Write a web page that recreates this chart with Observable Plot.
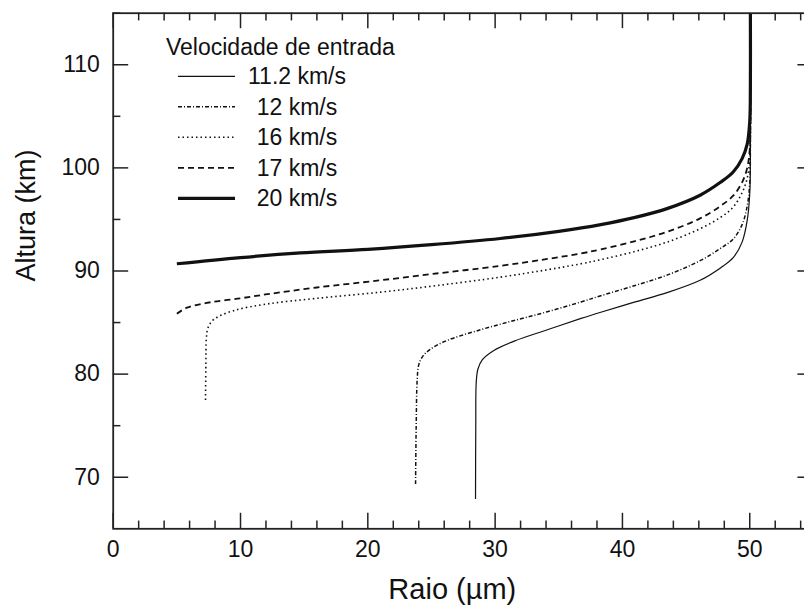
<!DOCTYPE html>
<html>
<head>
<meta charset="utf-8">
<script src="https://cdn.jsdelivr.net/npm/d3@7"></script>
<script src="https://cdn.jsdelivr.net/npm/@observablehq/plot@0.6"></script>
<style>
  html, body { margin: 0; padding: 0; background: #fff; }
  #chart svg { display: block; }
</style>
</head>
<body>
<div id="chart"></div>
<script>
// ---- Data ----
const seriesLabels = ["11.2 km/s", "12 km/s", "16 km/s", "17 km/s", "20 km/s"];
const legendTitle = "Velocidade de entrada";
const xLabel = "Raio (µm)";
const yLabel = "Altura (km)";
const xTicks = [0, 10, 20, 30, 40, 50];
const yTicks = [70, 80, 90, 100, 110];

// radius (µm) and altitude (km) for each entry velocity
const r112 = [28.46, 28.48, 28.52, 28.65, 29.0, 29.9, 31.5, 34.1, 36.75, 38.3, 41.0, 43.5, 46.1, 47.7, 48.7, 49.4, 49.8, 50.0, 50.05, 50.05];
const h112 = [67.9, 75.0, 79.3, 80.5, 81.4, 82.3, 83.2, 84.3, 85.4, 86.0, 87.0, 87.9, 89.1, 90.3, 91.3, 92.8, 94.9, 97.5, 101, 115];

const r12 = [23.75, 23.8, 23.88, 24.0, 24.3, 24.9, 26.2, 28.85, 31.5, 34.1, 36.75, 38.3, 41.0, 43.5, 46.1, 47.7, 48.7, 49.4, 49.8, 50.0, 50.05, 50.05];
const h12 = [69.35, 75.0, 79.5, 80.9, 81.7, 82.4, 83.25, 84.3, 85.2, 86.05, 87.0, 87.6, 88.6, 89.6, 91.0, 92.2, 93.1, 94.5, 96.3, 98.5, 102, 115];

const r16 = [7.25, 7.28, 7.32, 7.45, 7.9, 9.45, 12.1, 16.0, 21.0, 25.5, 30.4, 34.0, 36.75, 38.3, 41.0, 43.5, 46.1, 47.7, 48.7, 49.4, 49.8, 50.0, 50.05, 50.05];
const h16 = [77.5, 81.0, 83.5, 84.5, 85.3, 86.15, 86.8, 87.35, 87.95, 88.6, 89.4, 90.1, 90.7, 91.1, 91.9, 92.8, 94.1, 95.2, 96.2, 97.6, 99.0, 101, 104, 115];

const r17 = [5.0, 5.8, 7.65, 10.0, 12.1, 16.0, 21.0, 25.0, 30.4, 34.0, 36.75, 38.3, 41.0, 43.5, 46.1, 47.7, 48.7, 49.4, 49.8, 50.0, 50.05, 50.05];
const h17 = [85.86, 86.45, 86.97, 87.35, 87.75, 88.4, 89.1, 89.7, 90.5, 91.15, 91.7, 92.1, 92.9, 93.8, 95.1, 96.3, 97.3, 98.6, 100.0, 101.8, 105, 115];

const r20 = [5.0, 10.0, 14.7, 20.0, 25.0, 30.4, 35.0, 38.3, 41.0, 43.5, 46.1, 47.7, 48.7, 49.4, 49.8, 50.0, 50.05, 50.05];
const h20 = [90.7, 91.3, 91.75, 92.1, 92.55, 93.15, 93.85, 94.5, 95.2, 96.05, 97.35, 98.6, 99.6, 100.9, 102.3, 104.5, 108, 115];

// ---- Styles ----
const styles = [
  {width: 1.2, dash: null},
  {width: 1.5, dash: "4,2,1,2"},
  {width: 1.6, dash: "1.5,3"},
  {width: 1.8, dash: "6,4"},
  {width: 3.2, dash: null}
];

const radii = [r112, r12, r16, r17, r20];
const heights = [h112, h12, h16, h17, h20];
const series = seriesLabels.map((label, i) => ({
  label,
  ...styles[i],
  points: radii[i].map((r, j) => ({r, h: heights[i][j]}))
}));

// ---- Layout ----
const W = 804, H = 614;
const mL = 112.7, mR = -8.9, mT = 12.7, mB = 85.7;
const innerW = W - mL - mR, innerH = H - mT - mB;
const majorLen = 15.5, minorLen = 7.7;

const xMinor = d3.range(0, 56, 2).filter(v => v % 10 !== 0);
const yMinor = d3.range(65, 116, 5).filter(v => v % 10 !== 0 && v > 65);

const ink = "#222";
const font = "'Liberation Sans', Arial, Helvetica, sans-serif";

const marks = [];
// ticks (inward on all four sides)
marks.push(Plot.tickX(xTicks, {x: d => d, insetTop: innerH - majorLen, stroke: ink, strokeWidth: 1.5}));
marks.push(Plot.tickX(xMinor, {x: d => d, insetTop: innerH - minorLen, stroke: ink, strokeWidth: 1.5}));
marks.push(Plot.tickX(xTicks, {x: d => d, insetBottom: innerH - majorLen, stroke: ink, strokeWidth: 1.5}));
marks.push(Plot.tickX(xMinor, {x: d => d, insetBottom: innerH - minorLen, stroke: ink, strokeWidth: 1.5}));
marks.push(Plot.tickY(yTicks, {y: d => d, insetRight: innerW - majorLen, stroke: ink, strokeWidth: 1.5}));
marks.push(Plot.tickY(yMinor, {y: d => d, insetRight: innerW - minorLen, stroke: ink, strokeWidth: 1.5}));
marks.push(Plot.tickY(yTicks, {y: d => d, insetLeft: innerW - majorLen, stroke: ink, strokeWidth: 1.5}));
marks.push(Plot.tickY(yMinor, {y: d => d, insetLeft: innerW - minorLen, stroke: ink, strokeWidth: 1.5}));

// curves
for (const s of series) {
  marks.push(Plot.line(s.points, {
    x: "r", y: "h", curve: "catmull-rom",
    stroke: "#111", strokeWidth: s.width,
    strokeDasharray: s.dash, strokeLinecap: "butt", strokeLinejoin: "round"
  }));
}

marks.push(Plot.frame({stroke: ink, strokeWidth: 1.8}));

// tick labels
marks.push(Plot.axisX({ticks: xTicks, tickSize: 0, tickPadding: 11.4, fontSize: 23, label: null, tickFormat: d => String(d)}));
marks.push(Plot.axisY({ticks: yTicks, tickSize: 0, tickPadding: 13.4, fontSize: 23, label: null, tickFormat: d => String(d)}));

// axis titles
marks.push(Plot.text([xLabel], {text: d => d, frameAnchor: "bottom", dy: 69.7, dx: -11, fontSize: 29, fill: "#111"}));
marks.push(Plot.text([yLabel], {text: d => d, frameAnchor: "left", rotate: -90, dx: -86.7, dy: 10.5, fontSize: 27, fill: "#111"}));

const chart = Plot.plot({
  width: W, height: H,
  marginLeft: mL, marginRight: mR, marginTop: mT, marginBottom: mB,
  x: {domain: [0, 55]},
  y: {domain: [65, 115]},
  style: {fontFamily: font, color: "#111", background: "#fff", overflow: "hidden"},
  marks
});

// legend (inside the plot area, top-left)
const svg = d3.select(chart);
const lg = svg.append("g")
  .attr("font-family", font).attr("font-size", 23).attr("fill", "#111")
  .attr("text-anchor", "start");
lg.append("text").attr("x", 166).attr("y", 46.7).attr("dy", "0.35em")
  .attr("text-anchor", "start").text(legendTitle);
const legendTop = 76.3, legendStep = 30.5;
series.forEach((s, i) => {
  const y = legendTop + i * legendStep;
  const line = lg.append("line")
    .attr("x1", 178).attr("x2", 235).attr("y1", y).attr("y2", y)
    .attr("stroke", "#111").attr("stroke-width", s.width);
  if (s.dash) line.attr("stroke-dasharray", s.dash);
  lg.append("text").attr("x", 297).attr("y", y).attr("dy", "0.35em")
    .attr("text-anchor", "middle").text(s.label);
});

document.getElementById("chart").appendChild(chart);
</script>
</body>
</html>
